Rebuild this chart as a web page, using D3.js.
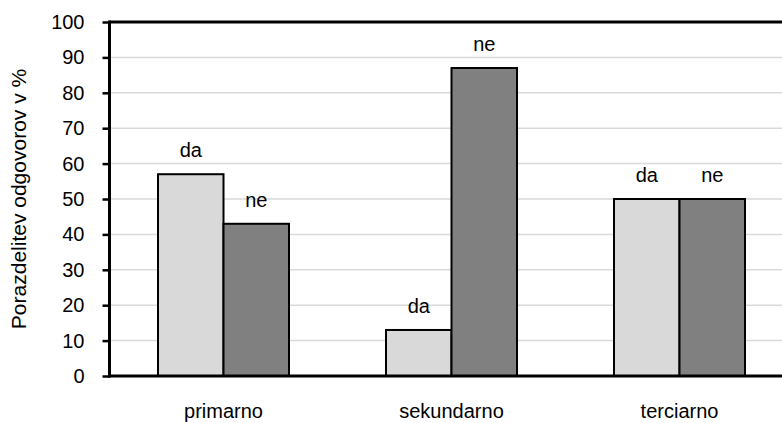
<!DOCTYPE html>
<html>
<head>
<meta charset="utf-8">
<script src="https://cdn.jsdelivr.net/npm/d3@7/dist/d3.min.js"></script>
<style>
  html, body { margin: 0; padding: 0; background: #fff; }
  svg { display: block; }
  text { font-family: "Liberation Sans", Arial, sans-serif; fill: #000; }
</style>
</head>
<body>
<svg id="chart" width="782" height="423"></svg>
<script>
// Categories, series and their percentages
const categories = ["primarno", "sekundarno", "terciarno"];
const seriesNames = ["da", "ne"];
const daValues = [57, 13, 50];
const neValues = [43, 87, 50];
const yTicks = [0, 10, 20, 30, 40, 50, 60, 70, 80, 90, 100];
const yTitle = "Porazdelitev odgovorov v %";

const seriesValues = { da: daValues, ne: neValues };
const seriesFill = { da: "#d9d9d9", ne: "#808080" };

const svg = d3.select("#chart");
const fontSize = 20;

// Plot area (right edge runs past the window)
const plotLeft = 109.5, plotRight = 793.5, plotTop = 22, plotBottom = 376;

const x = d3.scaleBand().domain(categories).range([plotLeft, plotRight]).padding(0);
const barW = 65.5;
const xs = d3.scaleBand().domain(seriesNames)
  .range([x.bandwidth() / 2 - barW, x.bandwidth() / 2 + barW]).padding(0);
const y = d3.scaleLinear().domain([0, 100]).range([plotBottom, plotTop]);

// Horizontal gridlines
svg.append("g")
  .selectAll("line")
  .data(yTicks.filter(t => t > 0 && t < 100))
  .join("line")
  .attr("x1", plotLeft).attr("x2", plotRight)
  .attr("y1", d => y(d)).attr("y2", d => y(d))
  .attr("stroke", "#d9d9d9").attr("stroke-width", 1.5);

// Bars
const rows = [];
categories.forEach((c, i) => {
  seriesNames.forEach(s => rows.push({ cat: c, series: s, value: seriesValues[s][i] }));
});

svg.append("g")
  .selectAll("rect")
  .data(rows)
  .join("rect")
  .attr("x", d => x(d.cat) + xs(d.series))
  .attr("y", d => y(d.value))
  .attr("width", xs.bandwidth())
  .attr("height", d => y(0) - y(d.value))
  .attr("fill", d => seriesFill[d.series])
  .attr("stroke", "#000").attr("stroke-width", 2);

// Series labels above each bar
svg.append("g")
  .selectAll("text")
  .data(rows)
  .join("text")
  .attr("x", d => x(d.cat) + xs(d.series) + xs.bandwidth() / 2)
  .attr("y", d => y(d.value) - 17)
  .attr("text-anchor", "middle")
  .attr("font-size", fontSize)
  .text(d => d.series);

// Top border of plot area
svg.append("line")
  .attr("x1", plotLeft).attr("x2", plotRight)
  .attr("y1", plotTop).attr("y2", plotTop)
  .attr("stroke", "#000").attr("stroke-width", 3);

// Y axis
const yAxis = svg.append("g")
  .attr("transform", `translate(${plotLeft},0)`)
  .call(d3.axisLeft(y).tickValues(yTicks).tickSize(7).tickPadding(18).tickFormat(d3.format("d")));
yAxis.select(".domain").attr("stroke", "#000").attr("stroke-width", 3)
  .attr("d", `M0,${plotTop - 1.5}V${plotBottom + 1.5}`);
yAxis.selectAll(".tick line").attr("stroke", "#000").attr("stroke-width", 2.5);
yAxis.selectAll(".tick text")
  .attr("font-size", fontSize)
  .attr("font-family", "Liberation Sans, Arial, sans-serif")
  .attr("fill", "#000");

// X axis
const xAxis = svg.append("g")
  .attr("transform", `translate(0,${plotBottom})`)
  .call(d3.axisBottom(x).tickSize(0).tickPadding(0));
xAxis.select(".domain").attr("stroke", "#000").attr("stroke-width", 3)
  .attr("d", `M${plotLeft - 1.5},0H${plotRight}`);
xAxis.selectAll(".tick text")
  .attr("font-size", fontSize)
  .attr("font-family", "Liberation Sans, Arial, sans-serif")
  .attr("fill", "#000")
  .attr("dy", null)
  .attr("y", 42);

// Y axis title
svg.append("text")
  .attr("transform", `translate(26,${(plotTop + plotBottom) / 2}) rotate(-90)`)
  .attr("text-anchor", "middle")
  .attr("font-size", 21)
  .text(yTitle);
</script>
</body>
</html>
